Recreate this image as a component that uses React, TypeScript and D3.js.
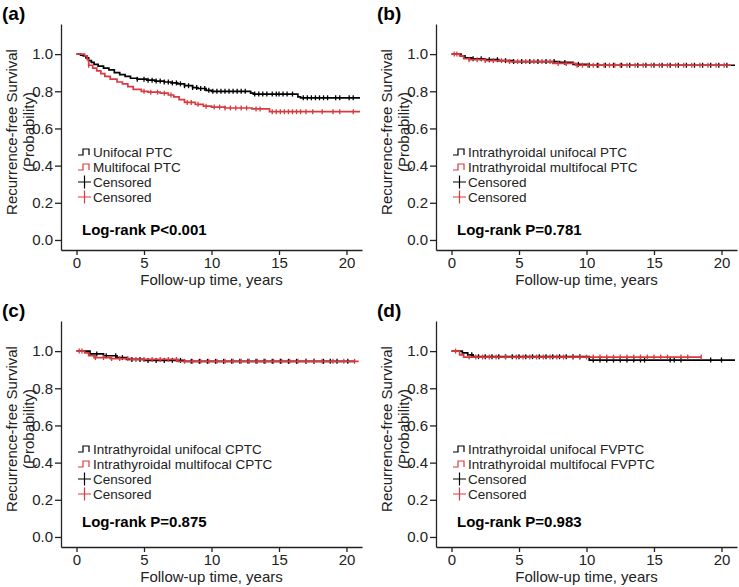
import React, { useEffect, useRef } from "react";
import * as d3 from "d3";

const RED = "#d93a3f";
const FONT = "'Liberation Sans', Arial, sans-serif";

const xTicks = [0, 5, 10, 15, 20];
const yTicks = [0, 0.2, 0.4, 0.6, 0.8, 1.0];

// (a) unifocal vs multifocal PTC
const aUniTime = [0, 0.3, 0.5, 0.7, 0.9, 1.1, 1.3, 1.6, 2.0, 2.4, 2.8, 3.2, 3.6, 4.0, 4.5, 5.2, 5.8, 6.5, 7.0, 7.5, 8.0, 8.6, 9.0, 9.6, 10.0, 12.9, 13.1, 16.4, 16.6, 21];
const aUniSurv = [1, 0.995, 0.99, 0.98, 0.965, 0.955, 0.945, 0.935, 0.925, 0.915, 0.9, 0.89, 0.88, 0.87, 0.865, 0.86, 0.855, 0.85, 0.845, 0.84, 0.83, 0.82, 0.815, 0.805, 0.8, 0.79, 0.785, 0.77, 0.765, 0.765];
const aUniCens = [4.5, 5.0, 5.3, 5.6, 5.9, 6.2, 6.5, 6.8, 7.1, 7.4, 7.7, 8.0, 8.3, 8.6, 8.9, 9.2, 9.5, 9.8, 10.1, 10.4, 10.7, 11.0, 11.3, 11.6, 11.9, 12.2, 12.5, 13.2, 13.5, 13.8, 14.1, 14.5, 14.8, 15.0, 15.3, 15.6, 16.0, 16.8, 17.1, 17.4, 17.7, 18.0, 18.3, 18.6, 19.2, 19.5, 20.2, 20.5];
const aMultiTime = [0, 0.6, 0.8, 0.9, 1.2, 1.5, 1.8, 2.1, 2.5, 3.0, 3.4, 3.8, 4.2, 4.8, 5.3, 6.2, 6.8, 7.2, 7.6, 8.0, 8.8, 9.4, 10.0, 11.0, 13.0, 14.3, 21];
const aMultiSurv = [1, 0.99, 0.97, 0.94, 0.925, 0.91, 0.895, 0.88, 0.865, 0.85, 0.84, 0.825, 0.81, 0.8, 0.795, 0.79, 0.78, 0.77, 0.755, 0.74, 0.73, 0.72, 0.715, 0.71, 0.705, 0.69, 0.69];
const aMultiCens = [0.9, 5.0, 5.5, 6.0, 6.5, 7.0, 8.2, 8.5, 9.0, 9.6, 10.2, 10.6, 11.0, 11.4, 11.8, 12.2, 12.6, 13.3, 13.6, 14.5, 14.8, 15.1, 15.4, 15.7, 16.0, 16.3, 16.6, 17.0, 17.5, 18.2, 19.0, 19.5, 20.5];

// (b) intrathyroidal PTC
const bUniTime = [0, 0.7, 1.0, 1.5, 2.5, 3.5, 4.5, 8.0, 9.0, 10.0, 21];
const bUniSurv = [1, 0.99, 0.98, 0.975, 0.97, 0.965, 0.96, 0.955, 0.945, 0.94, 0.94];
const bUniCens = [1.6, 2.2, 2.8, 3.4, 4.0, 4.6, 5.2, 5.8, 6.4, 7.0, 7.6, 8.4, 9.4, 10.2, 10.8, 11.4, 12.0, 12.6, 13.2, 13.8, 14.4, 15.0, 15.6, 16.2, 16.8, 17.4, 18.0, 18.6, 19.2, 19.8, 20.4];
const bMultiTime = [0, 0.6, 0.9, 1.3, 2.5, 4.2, 7.5, 9.2, 20.7];
const bMultiSurv = [1, 0.99, 0.975, 0.97, 0.965, 0.96, 0.95, 0.94, 0.94];
const bMultiCens = [0.2, 0.4, 1.3, 1.9, 2.5, 3.1, 3.7, 4.3, 4.9, 5.5, 6.1, 6.7, 7.3, 7.9, 8.5, 9.3, 9.7, 10.1, 10.5, 10.9, 11.3, 11.7, 12.1, 12.5, 13.0, 13.6, 14.2, 14.8, 15.4, 16.0, 16.6, 17.2, 17.8, 18.4, 19.0, 19.6, 20.2];

// (c) intrathyroidal CPTC
const cUniTime = [0, 1.0, 2.0, 3.0, 3.7, 5.0, 8.0, 20.6];
const cUniSurv = [1, 0.985, 0.975, 0.965, 0.955, 0.95, 0.945, 0.945];
const cUniCens = [1.5, 2.2, 2.9, 3.4, 4.1, 4.7, 5.3, 5.9, 6.5, 7.1, 7.7, 8.5, 9.1, 9.7, 10.3, 10.9, 11.5, 12.1, 12.7, 13.3, 13.9, 14.5, 15.1, 15.7, 16.3, 17.0, 17.6, 18.3, 18.8, 19.3, 20.1];
const cMultiTime = [0, 0.6, 0.9, 1.3, 2.5, 4.0, 7.5, 20.9];
const cMultiSurv = [1, 0.99, 0.975, 0.965, 0.96, 0.955, 0.945, 0.945];
const cMultiCens = [0.2, 0.4, 1.4, 2.0, 2.6, 3.2, 3.8, 4.4, 5.0, 5.6, 6.2, 6.8, 7.4, 8.0, 8.6, 9.2, 9.8, 10.4, 11.0, 11.6, 12.2, 12.8, 13.4, 14.0, 14.6, 15.2, 15.8, 16.4, 17.0, 17.6, 18.2, 19.0, 19.8, 20.6];

// (d) intrathyroidal FVPTC
const dUniTime = [0, 0.8, 1.2, 1.6, 10.2, 21];
const dUniSurv = [1, 0.99, 0.98, 0.97, 0.952, 0.952];
const dUniCens = [1.5, 2.0, 2.5, 3.0, 3.5, 4.0, 4.5, 5.0, 5.5, 6.0, 6.5, 7.0, 7.5, 8.0, 8.5, 9.0, 9.5, 10.5, 11.0, 11.5, 12.0, 12.5, 13.0, 13.5, 14.0, 14.3, 16.2, 16.5, 17.0, 19.2, 20.0];
const dMultiTime = [0, 0.6, 0.9, 18.5];
const dMultiSurv = [1, 0.98, 0.968, 0.968];
const dMultiCens = [0.3, 1.3, 1.8, 2.3, 2.8, 3.3, 4.0, 4.8, 5.3, 5.8, 6.3, 6.8, 7.3, 7.8, 8.3, 9.0, 9.5, 10.0, 10.5, 11.0, 11.5, 12.0, 12.5, 13.0, 13.5, 14.0, 14.5, 15.0, 15.5, 16.0, 17.0, 17.5, 18.5];

const panels = [
  { label: "(a)", ox: 0, oy: 0, uniName: "Unifocal PTC", multiName: "Multifocal PTC", p: "Log-rank P<0.001",
    uniTime: aUniTime, uniSurv: aUniSurv, uniCens: aUniCens, multiTime: aMultiTime, multiSurv: aMultiSurv, multiCens: aMultiCens },
  { label: "(b)", ox: 375, oy: 0, uniName: "Intrathyroidal unifocal PTC", multiName: "Intrathyroidal multifocal PTC", p: "Log-rank P=0.781",
    uniTime: bUniTime, uniSurv: bUniSurv, uniCens: bUniCens, multiTime: bMultiTime, multiSurv: bMultiSurv, multiCens: bMultiCens },
  { label: "(c)", ox: 0, oy: 297, uniName: " Intrathyroidal unifocal CPTC", multiName: " Intrathyroidal multifocal CPTC", p: "Log-rank P=0.875",
    uniTime: cUniTime, uniSurv: cUniSurv, uniCens: cUniCens, multiTime: cMultiTime, multiSurv: cMultiSurv, multiCens: cMultiCens },
  { label: "(d)", ox: 375, oy: 297, uniName: "Intrathyroidal unifocal FVPTC", multiName: "Intrathyroidal multifocal FVPTC", p: "Log-rank P=0.983",
    uniTime: dUniTime, uniSurv: dUniSurv, uniCens: dUniCens, multiTime: dMultiTime, multiSurv: dMultiSurv, multiCens: dMultiCens },
];

const survAt = (times: number[], surv: number[], t: number) => {
  let s = surv[0];
  times.forEach((tt, i) => { if (tt <= t) s = surv[i]; });
  return s;
};

function drawPanel(g: any, p: any) {
  const left = 61, right = 362, top = 24, bottom = 250;
  const x = d3.scaleLinear().domain([-1.15, 21.15]).range([left, right]);
  const y = d3.scaleLinear().domain([-0.054, 1.162]).range([bottom, top]);

  g.append("text").attr("x", 2).attr("y", 20)
    .style("font", `bold 19px ${FONT}`).text(p.label);

  // axes
  const xAxis = g.append("g").attr("transform", `translate(0,${bottom})`)
    .call(d3.axisBottom(x).tickValues(xTicks).tickSize(5).tickSizeOuter(0).tickPadding(2));
  const yAxis = g.append("g").attr("transform", `translate(${left},0)`)
    .call(d3.axisLeft(y).tickValues(yTicks).tickFormat(d3.format(".1f")).tickSize(6).tickSizeOuter(0).tickPadding(2));
  [xAxis, yAxis].forEach((a) => {
    a.selectAll("path,line").attr("stroke", "#222").attr("stroke-width", 1.3);
    a.selectAll("text").attr("fill", "#222").style("font", `15px ${FONT}`);
  });

  g.append("text").attr("x", (left + right) / 2).attr("y", 285).attr("text-anchor", "middle")
    .style("font", `15px ${FONT}`).attr("fill", "#222").text("Follow-up time, years");
  const yc = 132;
  g.append("text").attr("transform", `translate(11,${yc}) rotate(-90)`).attr("text-anchor", "middle")
    .attr("dominant-baseline", "central").style("font", `15px ${FONT}`).attr("fill", "#222")
    .text("Recurrence-free Survival");
  g.append("text").attr("transform", `translate(28.5,${yc}) rotate(-90)`).attr("text-anchor", "middle")
    .attr("dominant-baseline", "central").style("font", `15px ${FONT}`).attr("fill", "#222")
    .text("(Probability)");

  // curves
  const line = d3.line<[number, number]>().x((d) => x(d[0])).y((d) => y(d[1])).curve(d3.curveStepAfter);
  const series = [
    { times: p.uniTime, surv: p.uniSurv, cens: p.uniCens, color: "#000" },
    { times: p.multiTime, surv: p.multiSurv, cens: p.multiCens, color: RED },
  ];
  series.forEach((s) => {
    const pts = s.times.map((t: number, i: number) => [t, s.surv[i]] as [number, number]);
    g.append("path").attr("d", line(pts)).attr("fill", "none")
      .attr("stroke", s.color).attr("stroke-width", 1.7);
    g.selectAll(null).data(s.cens).enter().append("line")
      .attr("x1", (d: number) => x(d)).attr("x2", (d: number) => x(d))
      .attr("y1", (d: number) => y(survAt(s.times, s.surv, d)) - 2.5)
      .attr("y2", (d: number) => y(survAt(s.times, s.surv, d)) + 2.5)
      .attr("stroke", s.color).attr("stroke-width", 1.3);
  });

  // legend
  const lx = 78, rows = [152, 167, 182, 197];
  const legend = [
    { kind: "step", color: "#000", text: p.uniName },
    { kind: "step", color: RED, text: p.multiName },
    { kind: "plus", color: "#000", text: "Censored" },
    { kind: "plus", color: RED, text: "Censored" },
  ];
  legend.forEach((l, i) => {
    const cy = rows[i];
    if (l.kind === "step") {
      g.append("path").attr("d", `M${lx},${cy + 3}H${lx + 5}V${cy - 3}H${lx + 11}V${cy + 3}`)
        .attr("fill", "none").attr("stroke", l.color).attr("stroke-width", 1.2);
    } else {
      g.append("path").attr("d", `M${lx},${cy}H${lx + 13}M${lx + 6.5},${cy - 6.5}V${cy + 6.5}`)
        .attr("fill", "none").attr("stroke", l.color).attr("stroke-width", 1.2);
    }
    g.append("text").attr("x", lx + 15).attr("y", cy).attr("dominant-baseline", "central")
      .style("font", `13.5px ${FONT}`).attr("fill", "#222").text(l.text);
  });

  g.append("text").attr("x", 82).attr("y", p.oy ? 230 : 235)
    .style("font", `bold 15px ${FONT}`).attr("fill", "#000").text(p.p);
}

export default function App() {
  const ref = useRef<SVGSVGElement>(null);

  useEffect(() => {
    const svg = d3.select(ref.current);
    svg.selectAll("*").remove();
    panels.forEach((p) => {
      const g = svg.append("g").attr("transform", `translate(${p.ox},${p.oy})`);
      drawPanel(g, p);
    });
  }, []);

  return (
    <svg ref={ref} width={739} height={587}
      style={{ position: "absolute", left: 0, top: 0, background: "#fff" }} />
  );
}
